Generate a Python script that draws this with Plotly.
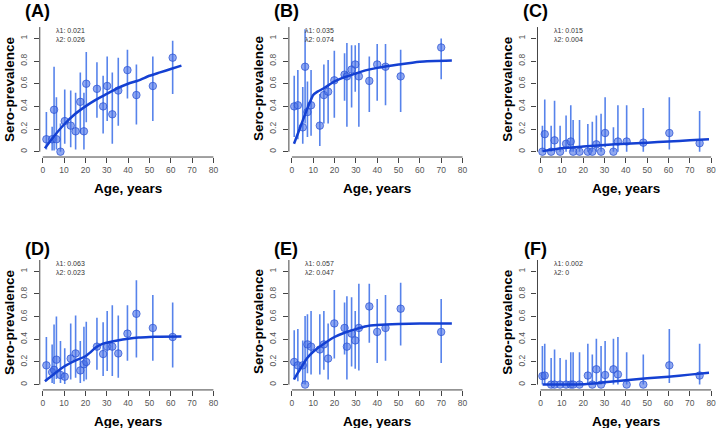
import plotly.graph_objects as go

# ---------------- data ----------------
panel_labels = ["(A)", "(B)", "(C)", "(D)", "(E)", "(F)"]
lambda1 = ["0.021", "0.035", "0.015", "0.063", "0.057", "0.002"]
lambda2 = ["0.026", "0.074", "0.004", "0.023", "0.047", "0"]

# Panel A
a_age = [1.7, 4.4, 5.3, 6.4, 8.3, 10.3, 13.1, 15.4, 17.6, 19.3, 20.4, 25.4, 28.3, 30.2, 32.6, 35.4, 39.7, 43.9, 51.6, 60.9]
a_prev = [0.11, 0.11, 0.37, 0.11, 0.0, 0.27, 0.23, 0.18, 0.44, 0.18, 0.60, 0.555, 0.40, 0.58, 0.33, 0.54, 0.72, 0.50, 0.58, 0.83]
a_low = [0.02, 0.01, 0.01, 0.02, 0.0, 0.07, 0.04, 0.02, 0.16, 0.02, 0.26, 0.30, 0.16, 0.27, 0.07, 0.23, 0.47, 0.24, 0.27, 0.51]
a_high = [0.35, 0.22, 0.75, 0.48, 0.25, 0.55, 0.54, 0.52, 0.70, 0.52, 0.88, 0.79, 0.67, 0.84, 0.70, 0.83, 0.90, 0.77, 0.84, 0.98]
a_fit_x = [1, 5, 10, 15, 20, 25, 30, 35, 40, 45, 50, 55, 60, 65]
a_fit_y = [0.03, 0.13, 0.24, 0.33, 0.40, 0.46, 0.51, 0.56, 0.60, 0.63, 0.67, 0.70, 0.73, 0.76]

# Panel B
b_age = [1.1, 2.8, 5.1, 6.2, 7.3, 9.0, 13.1, 15.0, 17.0, 19.9, 24.7, 25.8, 28.0, 29.7, 31.4, 36.3, 40.0, 43.9, 51.0, 70.0]
b_prev = [0.40, 0.41, 0.215, 0.75, 0.35, 0.41, 0.23, 0.50, 0.53, 0.63, 0.68, 0.665, 0.725, 0.77, 0.665, 0.625, 0.77, 0.75, 0.665, 0.92]
b_low = [0.13, 0.11, 0.07, 0.25, 0.13, 0.14, 0.05, 0.25, 0.25, 0.30, 0.45, 0.22, 0.39, 0.53, 0.22, 0.35, 0.45, 0.41, 0.35, 0.64]
b_high = [0.67, 0.72, 0.57, 1.08, 0.62, 0.72, 0.51, 0.77, 0.81, 0.89, 0.87, 0.96, 0.94, 0.94, 0.96, 0.84, 0.95, 0.95, 0.90, 1.0]
b_fit_x = [1, 3, 5, 7, 9, 10, 12, 15, 20, 25, 30, 35, 40, 50, 60, 75]
b_fit_y = [0.07, 0.17, 0.27, 0.37, 0.46, 0.50, 0.53, 0.56, 0.62, 0.66, 0.69, 0.72, 0.74, 0.77, 0.795, 0.805]

# Panel C
c_age = [0.9, 2.0, 5.0, 6.6, 9.2, 12.0, 14.2, 15.3, 18.3, 22.2, 24.3, 26.2, 28.4, 30.3, 34.2, 36.3, 40.4, 48.2, 60.4, 74.6]
c_prev = [0.0, 0.155, 0.0, 0.10, 0.0, 0.07, 0.09, 0.0, 0.0, 0.0, 0.0, 0.065, 0.0, 0.165, 0.0, 0.09, 0.09, 0.08, 0.165, 0.075]
c_low = [0.0, 0.0, 0.0, 0.0, 0.0, 0.0, 0.0, 0.0, 0.0, 0.0, 0.0, 0.0, 0.0, 0.04, 0.0, 0.0, 0.0, 0.0, 0.02, 0.0]
c_high = [0.23, 0.46, 0.23, 0.45, 0.23, 0.32, 0.41, 0.28, 0.28, 0.245, 0.265, 0.32, 0.335, 0.48, 0.215, 0.41, 0.41, 0.385, 0.48, 0.36]
c_fit_x = [1, 10, 20, 30, 40, 50, 60, 70, 79]
c_fit_y = [0.005, 0.03, 0.045, 0.06, 0.07, 0.08, 0.09, 0.10, 0.11]

# Panel D
d_age = [1.7, 4.4, 5.3, 6.4, 8.3, 10.3, 13.1, 15.4, 17.6, 19.3, 20.4, 25.4, 28.3, 30.2, 32.6, 35.4, 39.7, 43.9, 51.6, 60.9]
d_prev = [0.17, 0.11, 0.13, 0.22, 0.085, 0.07, 0.23, 0.275, 0.125, 0.18, 0.20, 0.335, 0.27, 0.335, 0.335, 0.275, 0.45, 0.625, 0.50, 0.42]
d_low = [0.03, 0.015, 0.005, 0.05, 0.015, 0.005, 0.045, 0.06, 0.015, 0.03, 0.045, 0.13, 0.075, 0.12, 0.075, 0.06, 0.21, 0.24, 0.21, 0.15]
d_high = [0.42, 0.355, 0.53, 0.60, 0.385, 0.32, 0.54, 0.61, 0.385, 0.51, 0.555, 0.59, 0.55, 0.65, 0.70, 0.61, 0.70, 0.92, 0.79, 0.725]
d_fit_x = [1, 5, 10, 15, 20, 22, 25, 28, 30, 35, 40, 45, 50, 55, 65]
d_fit_y = [0.03, 0.09, 0.16, 0.21, 0.25, 0.28, 0.33, 0.36, 0.37, 0.39, 0.405, 0.415, 0.42, 0.423, 0.425]

# Panel E
e_age = [1.1, 2.8, 5.1, 6.2, 7.3, 9.0, 13.1, 15.0, 17.0, 19.9, 24.7, 25.8, 28.0, 29.7, 31.4, 36.3, 40.0, 43.9, 51.0, 70.0]
e_prev = [0.20, 0.17, 0.17, 0.0, 0.355, 0.335, 0.31, 0.355, 0.23, 0.54, 0.50, 0.335, 0.45, 0.39, 0.50, 0.69, 0.465, 0.50, 0.67, 0.465]
e_low = [0.045, 0.03, 0.005, 0.0, 0.10, 0.09, 0.09, 0.13, 0.045, 0.23, 0.265, 0.045, 0.16, 0.14, 0.125, 0.37, 0.19, 0.21, 0.345, 0.19]
e_high = [0.48, 0.49, 0.39, 0.605, 0.62, 0.65, 0.62, 0.65, 0.54, 0.835, 0.725, 0.78, 0.77, 0.65, 0.89, 0.89, 0.755, 0.79, 0.90, 0.755]
e_fit_x = [1, 3, 5, 7, 10, 15, 20, 25, 30, 35, 40, 50, 60, 75]
e_fit_y = [0.045, 0.11, 0.17, 0.23, 0.29, 0.36, 0.42, 0.46, 0.49, 0.515, 0.525, 0.535, 0.54, 0.54]

# Panel F
f_age = [0.9, 2.0, 5.0, 6.6, 9.2, 12.0, 14.2, 15.3, 18.3, 22.2, 24.3, 26.2, 28.4, 30.3, 34.2, 36.3, 40.4, 48.2, 60.4, 74.6]
f_prev = [0.075, 0.08, 0.0, 0.0, 0.0, 0.0, 0.0, 0.0, 0.0, 0.08, 0.0, 0.135, 0.0, 0.085, 0.135, 0.09, 0.0, 0.0, 0.17, 0.08]
f_low = [0.0, 0.0, 0.0, 0.0, 0.0, 0.0, 0.0, 0.0, 0.0, 0.0, 0.0, 0.0, 0.0, 0.0, 0.0, 0.0, 0.0, 0.0, 0.015, 0.0]
f_high = [0.34, 0.36, 0.235, 0.31, 0.235, 0.22, 0.285, 0.285, 0.285, 0.36, 0.265, 0.405, 0.34, 0.385, 0.405, 0.42, 0.285, 0.265, 0.49, 0.36]
f_fit_x = [1, 10, 20, 25, 30, 40, 50, 60, 70, 79]
f_fit_y = [0.0, 0.0, 0.002, 0.01, 0.02, 0.038, 0.055, 0.07, 0.088, 0.104]

x_ticks = [0, 10, 20, 30, 40, 50, 60, 70, 80]
y_ticks = [0, 0.2, 0.4, 0.6, 0.8, 1]
y_tick_text = ["0", "0.2", "0.4", "0.6", "0.8", "1"]

panels = [
    (a_age, a_prev, a_low, a_high, a_fit_x, a_fit_y),
    (b_age, b_prev, b_low, b_high, b_fit_x, b_fit_y),
    (c_age, c_prev, c_low, c_high, c_fit_x, c_fit_y),
    (d_age, d_prev, d_low, d_high, d_fit_x, d_fit_y),
    (e_age, e_prev, e_low, e_high, e_fit_x, e_fit_y),
    (f_age, f_prev, f_low, f_high, f_fit_x, f_fit_y),
]

# ---------------- layout geometry (pixels) ----------------
W, H = 721, 428
col_x0 = [43, 293.5, 543.5]       # pixel of age 0
row_y0 = [151.7, 384.6]           # pixel of prevalence 0
sx = 2.145                        # px per year
sy = 113.3                        # px per unit prevalence
XR = [-1.4, 80.6]
YR = [-0.047, 1.1]
FONT = "Liberation Sans, Arial, sans-serif"

def px(x):
    return x / W

def py(y):
    return 1 - y / H

fig = go.Figure()
layout = dict(width=W, height=H, margin=dict(l=0, r=0, t=0, b=0),
              paper_bgcolor="white", plot_bgcolor="white", showlegend=False,
              autosize=False)
annotations = []
shapes = []

for i, (age, prev, low, high, fx, fy) in enumerate(panels):
    r, c = divmod(i, 3)
    n = i + 1
    xa = "x" if n == 1 else f"x{n}"
    ya = "y" if n == 1 else f"y{n}"
    X0, Y0 = col_x0[c], row_y0[r]
    left = X0 + XR[0] * sx
    right = X0 + XR[1] * sx
    bottom = Y0 - YR[0] * sy
    top = Y0 - YR[1] * sy

    layout["xaxis" if n == 1 else f"xaxis{n}"] = dict(
        domain=[px(left), px(right)], range=XR, anchor=ya,
        showgrid=False, zeroline=False, showline=False,
        ticks="outside", ticklen=5, tickwidth=1, tickcolor="#444",
        tickvals=x_ticks, tickfont=dict(size=8.5, color="#555", family=FONT),
        fixedrange=True)
    layout["yaxis" if n == 1 else f"yaxis{n}"] = dict(
        domain=[py(bottom), py(top)], range=YR, anchor=xa,
        showgrid=False, zeroline=False, showline=False,
        ticks="outside", ticklen=5, tickwidth=1, tickcolor="#444",
        tickvals=y_ticks, ticktext=y_tick_text, tickangle=-90,
        ticklabelstandoff=3,
        tickfont=dict(size=8.5, color="#555", family=FONT),
        fixedrange=True)

    # axis lines (R style, not joined)
    shapes.append(dict(type="line", xref=f"{xa} domain", yref=ya, x0=0, x1=0,
                       y0=0, y1=YR[1], line=dict(color="#444", width=1)))
    shapes.append(dict(type="line", xref=xa, yref=f"{ya} domain", x0=0, x1=80,
                       y0=0, y1=0, line=dict(color="#444", width=1)))

    fig.add_trace(go.Scatter(
        x=age, y=prev, mode="markers", xaxis=xa, yaxis=ya, cliponaxis=False,
        marker=dict(size=7.5, color="rgba(70,110,230,0.6)",
                    line=dict(color="rgba(40,80,210,0.7)", width=1)),
        error_y=dict(type="data", symmetric=False,
                     array=[h - p for h, p in zip(high, prev)],
                     arrayminus=[p - l for p, l in zip(prev, low)],
                     color="rgba(45,100,230,0.8)", thickness=1.6, width=0),
    ))
    fig.add_trace(go.Scatter(
        x=fx, y=fy, mode="lines", xaxis=xa, yaxis=ya, cliponaxis=False,
        line=dict(color="#1440d2", width=2.5, shape="spline", smoothing=0.6),
    ))

    # panel label
    if r == 0:
        annotations.append(dict(text="<b>" + panel_labels[i] + "</b>", x=px(X0 - 5.5),
                                y=1, xref="paper", yref="paper", borderpad=0,
                                showarrow=False, xanchor="center", yanchor="top",
                                font=dict(size=18, color="black", family=FONT)))
    else:
        annotations.append(dict(text="<b>" + panel_labels[i] + "</b>", x=px(X0 - 5.5),
                                y=py(249), xref="paper", yref="paper",
                                showarrow=False, xanchor="center", yanchor="middle",
                                font=dict(size=18, color="black", family=FONT)))
    # lambda text
    annotations.append(dict(text="λ1: " + lambda1[i] + "<br>λ2: " + lambda2[i],
                            x=px(X0 + 12.3), y=py(34.7 + 233 * r),
                            xref="paper", yref="paper", showarrow=False,
                            xanchor="left", yanchor="middle", align="left",
                            borderpad=0,
                            font=dict(size=7, color="#333", family=FONT)))
    # y title
    annotations.append(dict(text="<b>Sero-prevalence</b>", x=px(X0 - 33.5),
                            y=py(88.5 + 233 * r), xref="paper", yref="paper",
                            showarrow=False, textangle=-90, xanchor="center",
                            yanchor="middle",
                            font=dict(size=13.5, color="black", family=FONT)))
    # x title
    annotations.append(dict(text="<b>Age, years</b>", x=px(X0 + 40 * sx),
                            y=py(Y0 + 37), xref="paper", yref="paper",
                            showarrow=False, xanchor="center", yanchor="middle",
                            font=dict(size=13.5, color="black", family=FONT)))

layout["annotations"] = annotations
layout["shapes"] = shapes
fig.update_layout(**layout)
fig.write_html("out.html")
